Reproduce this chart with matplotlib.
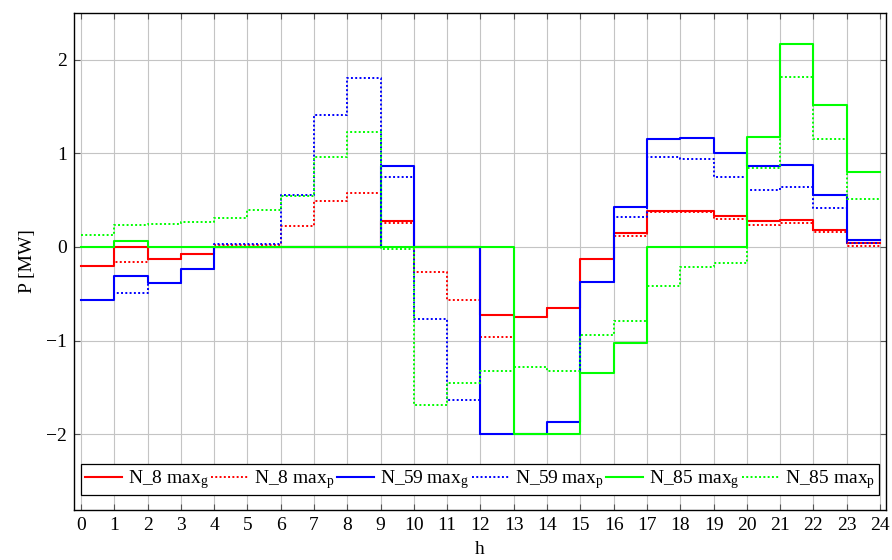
import matplotlib
matplotlib.use("Agg")
import matplotlib.pyplot as plt
import numpy as np

hours = list(range(25))

n8_g = [-0.20, 0.00, -0.13, -0.075, 0.0, 0.0, 0.0, 0.0, 0.0, 0.28, 0.0, 0.0,
        -0.73, -0.75, -0.65, -0.125, 0.15, 0.38, 0.38, 0.33, 0.28, 0.29, 0.18, 0.04]
n8_p = [-0.20, -0.165, -0.13, -0.075, 0.02, 0.02, 0.22, 0.49, 0.58, 0.26, -0.27, -0.57,
        -0.96, -0.75, -0.65, -0.125, 0.12, 0.37, 0.37, 0.30, 0.24, 0.26, 0.16, 0.01]
n59_g = [-0.57, -0.31, -0.39, -0.24, 0.0, 0.0, 0.0, 0.0, 0.0, 0.86, 0.0, 0.0,
         -2.0, -2.0, -1.875, -0.37, 0.43, 1.15, 1.16, 1.0, 0.865, 0.875, 0.56, 0.08]
n59_p = [-0.57, -0.49, -0.39, -0.24, 0.03, 0.03, 0.56, 1.41, 1.81, 0.75, -0.77, -1.64,
         -2.0, -2.0, -1.875, -0.37, 0.32, 0.957, 0.94, 0.75, 0.61, 0.64, 0.42, 0.045]
n85_g = [0.0, 0.065, 0.0, 0.0, 0.0, 0.0, 0.0, 0.0, 0.0, 0.0, 0.0, 0.0,
         0.0, -2.0, -2.0, -1.35, -1.03, 0.0, 0.0, 0.0, 1.18, 2.17, 1.52, 0.80]
n85_p = [0.125, 0.235, 0.245, 0.27, 0.31, 0.39, 0.55, 0.957, 1.23, -0.02, -1.69, -1.45,
         -1.32, -1.28, -1.33, -0.94, -0.79, -0.42, -0.21, -0.17, 0.84, 1.82, 1.15, 0.51]

labels = [r"N_8 max$_\mathrm{g}$", r"N_8 max$_\mathrm{p}$",
          r"N_59 max$_\mathrm{g}$", r"N_59 max$_\mathrm{p}$",
          r"N_85 max$_\mathrm{g}$", r"N_85 max$_\mathrm{p}$"]

FS = 14
plt.rcParams['font.family'] = ['Liberation Serif', 'DejaVu Serif']
plt.rcParams['mathtext.fontset'] = 'custom'
plt.rcParams['mathtext.rm'] = 'Liberation Serif'
plt.rcParams['mathtext.it'] = 'Liberation Serif:italic'
plt.rcParams['font.size'] = FS

fig = plt.figure(figsize=(8.92, 5.6), dpi=100)
ax = fig.add_axes([74/892, 50/560, (886-74)/892, (510-13)/560])

series = [n8_g, n8_p, n59_g, n59_p, n85_g, n85_p]
colors = ['#ff0000', '#ff0000', '#0000ff', '#0000ff', '#00ff00', '#00ff00']
dotted = [False, True, False, True, False, True]

for vals, c, d, lab in zip(series, colors, dotted, labels):
    y = list(vals) + [vals[-1]]
    if d:
        ax.step(hours, y, where='post', color=c, lw=1.4, linestyle=(0, (1, 1.2)),
                dash_capstyle='butt', label=lab)
    else:
        ax.step(hours, y, where='post', color=c, lw=1.5, label=lab)

ax.set_xlim(-0.21, 24.18)
ax.set_ylim(-2.81, 2.5)
ax.set_xticks(range(25))
ax.set_yticks([-2, -1, 0, 1, 2])
ax.set_yticklabels(['\u22122', '\u22121', '0', '1', '2'])
ax.grid(True, color='#c4c4c4', lw=0.8)
ax.set_axisbelow(True)
ax.tick_params(direction='in', top=True, right=True, length=4, width=0.8,
               color='#555555', labelsize=FS, pad=5)
for s in ax.spines.values():
    s.set_linewidth(1.0)
ax.set_xlabel('h', fontsize=FS, labelpad=5)
ax.set_ylabel('P [MW]', fontsize=FS, labelpad=7)

leg = ax.legend(ncol=6, loc='lower left',
                bbox_to_anchor=((81-74)/812, (510-495)/497, (879-81)/812, 31/497),
                mode='expand', fancybox=False, framealpha=1, edgecolor='black',
                handlelength=1.9, handletextpad=0.3, columnspacing=0.2,
                borderaxespad=0, fontsize=FS, borderpad=0.2)
leg.get_frame().set_linewidth(0.9)

fig.savefig('out.png', dpi=100)
